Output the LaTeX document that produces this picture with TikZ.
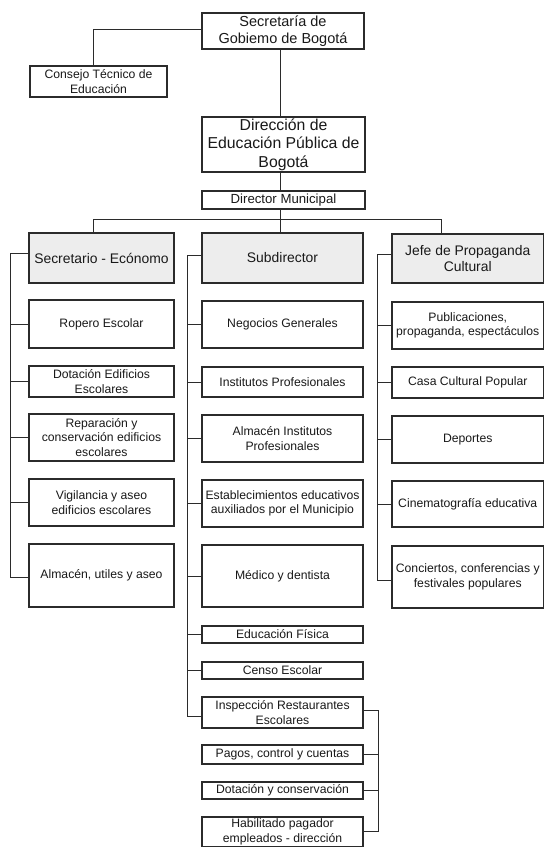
\documentclass[tikz,border=0pt]{standalone}
\usepackage{fontspec}
\setmainfont{Liberation Sans}
\definecolor{linec}{HTML}{2B2B2B}
\definecolor{headc}{HTML}{EDEDED}
\newcommand{\obox}[7]{\node[#1,minimum width={(#5-#3)*1pt},minimum height={(#6-#4)*1pt}] (#2) at ({(#3+#5)/2},{(#4+#6)/2}) {#7};}
\tikzset{
  box/.style={draw=linec, line width=1.3pt, fill=white, inner sep=0pt, align=center,
    text=black!90, font=\fontsize{12.2}{14.6}\selectfont},
  headbox/.style={box, fill=headc, font=\fontsize{13.9}{16.5}\selectfont},
  topbox/.style={box, font=\fontsize{14.5}{17.5}\selectfont},
  mainbox/.style={box, line width=2.8pt, font=\fontsize{15.8}{18.5}\selectfont},
  midbox/.style={box, font=\fontsize{13.2}{16}\selectfont},
  conn/.style={draw=linec, line width=1pt}
}
\begin{document}
\begin{tikzpicture}[x=1pt,y=-1pt]
\useasboundingbox[fill=white] (0,0) rectangle (545,847);
\clip (0,0) rectangle (545,847);
% top part
\obox{topbox}{sgb}{202}{13}{364}{49}{Secretaría de\\Gobiemo de Bogotá}
\obox{box}{cons}{30}{66}{167}{97}{Consejo Técnico de\\Educación}
\obox{mainbox}{dep}{202}{117}{365}{172}{Dirección de\\Educación Pública de\\Bogotá}
\obox{midbox}{dm}{202}{191}{365}{209}{Director Municipal}
% left column
\obox{headbox}{secE}{29}{233}{174}{283}{Secretario - Ecónomo}
\obox{box}{rop}{29}{300}{174}{348}{Ropero Escolar}
\obox{box}{dot}{29}{366}{174}{397}{Dotación Edificios\\Escolares}
\obox{box}{rep}{29}{414}{174}{461}{Reparación y\\conservación edificios\\escolares}
\obox{box}{vig}{29}{479}{174}{526}{Vigilancia y aseo\\edificios escolares}
\obox{box}{almU}{29}{544}{174}{607}{Almacén, utiles y aseo}
% middle column
\obox{headbox}{subd}{202}{233}{363}{283}{Subdirector}
\obox{box}{neg}{202}{301}{363}{348}{Negocios Generales}
\obox{box}{inst}{202}{367}{363}{397}{Institutos Profesionales}
\obox{box}{almI}{202}{415}{363}{462}{Almacén Institutos\\Profesionales}
\obox{box}{est}{202}{480}{363}{527}{Establecimientos educativos\\auxiliados por el Municipio}
\obox{box}{med}{202}{545}{363}{607}{Médico y dentista}
\obox{box}{edf}{202}{626}{363}{643}{Educación Física}
\obox{box}{cen}{202}{662}{363}{679}{Censo Escolar}
\obox{box}{insp}{202}{697}{363}{728}{Inspección Restaurantes\\Escolares}
\obox{box}{pag}{202}{745}{363}{764}{Pagos, control y cuentas}
\obox{box}{dcon}{202}{782}{363}{799}{Dotación y conservación}
\obox{box}{hab}{202}{817}{363}{847}{Habilitado pagador\\empleados - dirección}
% right column
\obox{headbox}{jefe}{392}{234}{543.5}{283}{Jefe de Propaganda\\Cultural}
\obox{box}{pub}{392}{302}{543.5}{349}{Publicaciones,\\propaganda, espectáculos}
\obox{box}{casa}{392}{367}{543.5}{398}{Casa Cultural Popular}
\obox{box}{dep2}{392}{416}{543.5}{463}{Deportes}
\obox{box}{cine}{392}{481}{543.5}{527}{Cinematografía educativa}
\obox{box}{conc}{392}{546}{543.5}{608}{Conciertos, conferencias y\\festivales populares}
% coordinates for connector lines
\coordinate (tx) at (280,0);
\coordinate (cx) at (93,0);
\coordinate (bL) at (93,219);
\coordinate (bR) at (441,219);
\coordinate (lx) at (10,0);
\coordinate (mx) at (187,0);
\coordinate (rx) at (377,0);
\coordinate (ix) at (378,0);
% top connectors
\draw[conn] (tx |- sgb.south) -- (tx |- dep.north);
\draw[conn] (tx |- dep.south) -- (tx |- dm.north);
\draw[conn] ([yshift=2pt]sgb.west) -| (cx |- cons.north);
\draw[conn] (tx |- dm.south) -- (tx |- subd.north);
\draw[conn] (bL) -- (bR);
\draw[conn] (bL) -- (bL |- secE.north);
\draw[conn] (bR) -- (bR |- jefe.north);
% left bracket
\draw[conn] ([yshift=5pt]secE.west) -- ([yshift=5pt]secE.west -| lx) -- ([yshift=-2pt]almU.west -| lx) -- ([yshift=-2pt]almU.west);
\foreach \n in {rop,dot,rep,vig}{\draw[conn] (\n.west -| lx) -- (\n.west);}
% middle bracket
\draw[conn] ([yshift=3pt]subd.west) -- ([yshift=3pt]subd.west -| mx) -- ([yshift=-4pt]insp.west -| mx) -- ([yshift=-4pt]insp.west);
\foreach \n in {neg,inst,almI,est,med,edf,cen}{\draw[conn] (\n.west -| mx) -- (\n.west);}
% right bracket
\draw[conn] ([yshift=4pt]jefe.west) -- ([yshift=4pt]jefe.west -| rx) -- ([yshift=-3pt]conc.west -| rx) -- ([yshift=-3pt]conc.west);
\foreach \n in {pub,casa,dep2,cine}{\draw[conn] (\n.west -| rx) -- (\n.west);}
% Inspeccion bracket
\draw[conn] ([yshift=2pt]insp.east) -- ([yshift=2pt]insp.east -| ix) -- ([yshift=1pt]hab.east -| ix) -- ([yshift=1pt]hab.east);
\foreach \n in {pag,dcon}{\draw[conn] (\n.east -| ix) -- (\n.east);}
\end{tikzpicture}
\end{document}
